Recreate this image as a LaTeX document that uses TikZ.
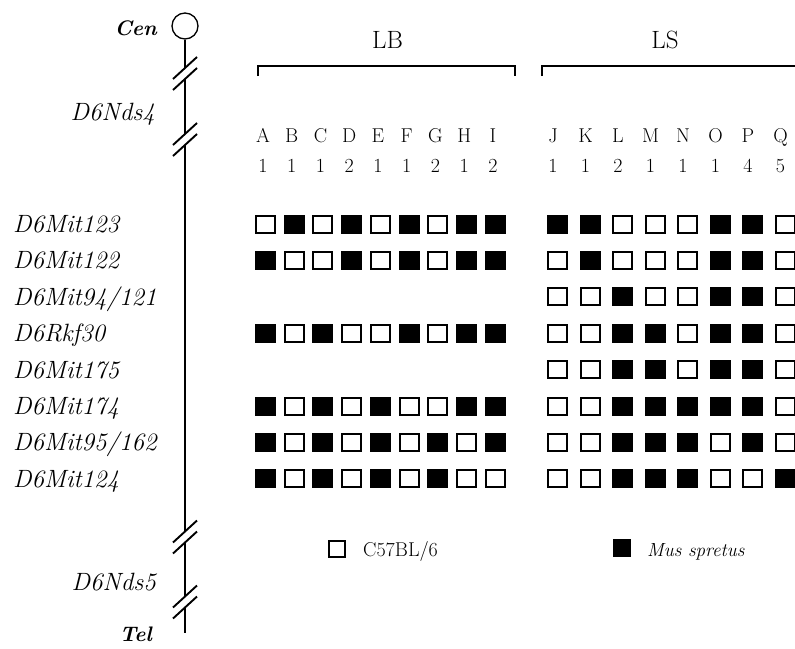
\documentclass[tikz,border=0pt]{standalone}
\tikzset{
  mapline/.style={line width=1.3pt},
  cutmark/.style={line width=1.9pt},
  bracket/.style={line width=2pt},
  gbox/.style={rectangle, draw=black, line width=2pt, minimum width=19pt,
    minimum height=17pt, inner sep=0pt},
  gt0/.style={gbox, fill=white},
  gt1/.style={gbox, fill=black},
  keybox/.style={rectangle, draw=black, line width=2pt, minimum width=16pt,
    minimum height=16pt, inner sep=0pt},
  marker/.style={anchor=base west, inner sep=0pt,
    font=\fontsize{25}{30}\selectfont\itshape},
  locus/.style={anchor=base east, inner sep=0pt,
    font=\fontsize{25}{30}\selectfont\itshape},
  endlabel/.style={anchor=base east, inner sep=0pt,
    font=\fontsize{21}{25}\selectfont\bfseries\itshape},
  group/.style={anchor=base, inner sep=0pt, font=\fontsize{25}{30}\selectfont},
  head/.style={anchor=base, inner sep=0pt, font=\fontsize{20}{24}\selectfont},
  keytext/.style={anchor=base west, inner sep=0pt, font=\fontsize{20}{24}\selectfont},
}
\begin{document}
\begin{tikzpicture}[x=1pt,y=-1pt]
\useasboundingbox (0,0) rectangle (795,648);

% chromosome with centromere and breaks
\node[circle, draw, line width=1.3pt, minimum size=26pt, inner sep=0pt] (cen) at (185,26) {};
\node[endlabel] (cenlabel) at (157,35) {Cen};
\node[endlabel] (tellabel) at (152,641) {Tel};
\coordinate (telend) at (185,633);
\foreach \k/\yc in {1/73.5, 2/139.5, 3/537, 4/602} {
  \coordinate (cut\k-a) at (185,\yc-5.5);
  \coordinate (cut\k-b) at (185,\yc+5.5);
  \draw[cutmark] (173,\yc+5.5) -- (197,\yc-16.5);
  \draw[cutmark] (173,\yc+16.5) -- (197,\yc-5.5);
}
\draw[mapline] (cen) -- (cut1-a) (cut1-b) -- (cut2-a) (cut2-b) -- (cut3-a)
  (cut3-b) -- (cut4-a) (cut4-b) -- (telend);
\node[locus] (nds4) at (155,120) {D6Nds4};
\node[locus] (nds5) at (156,590) {D6Nds5};

% marker names
\foreach \r/\name in {1/{D6Mit123}, 2/{D6Mit122}, 3/{D6Mit94/121}, 4/{D6Rkf30},
    5/{D6Mit175}, 6/{D6Mit174}, 7/{D6Mit95/162}, 8/{D6Mit124}}
  \node[marker] (mk-\r) at (13,{232.5+36.4*(\r-1)}) {\name};

% group brackets
\node[group] (lb) at (387.5,48) {LB};
\node[group] (ls) at (665,48) {LS};
\coordinate (lb-l) at (258,76);
\coordinate (lb-r) at (515,76);
\coordinate (ls-l) at (542,76);
\coordinate (ls-r) at (795,66);
\draw[bracket] (lb-l) |- (lb-r |- 0,66) -- (lb-r);
\draw[bracket] (ls-l) |- (ls-r);

% column letters and counts
\foreach \l/\n [count=\c] in {A/1,B/1,C/1,D/2,E/1,F/1,G/2,H/1,I/2} {
  \node[head] (h-\l) at ({263+28.75*(\c-1)},142) {\l};
  \node[head] (n-\l) at ({263+28.75*(\c-1)},172) {\n};
}
\foreach \l/\n [count=\c] in {J/1,K/1,L/2,M/1,N/1,O/1,P/4,Q/5} {
  \node[head] (h-\l) at ({553+32.5*(\c-1)},142) {\l};
  \node[head] (n-\l) at ({553+32.5*(\c-1)},172) {\n};
}

% genotypes: 0 = C57BL/6, 1 = Mus spretus
\foreach \r/\pat in {1/{0,1,0,1,0,1,0,1,1}, 2/{1,0,0,1,0,1,0,1,1},
    4/{1,0,1,0,0,1,0,1,1}, 6/{1,0,1,0,1,0,0,1,1},
    7/{1,0,1,0,1,0,1,0,1}, 8/{1,0,1,0,1,0,1,0,0}}
  \foreach \v [count=\c] in \pat
    \node[gt\v] (lbg-\r-\c) at ({265.4+28.75*(\c-1)},{224+36.4*(\r-1)}) {};
\foreach \r/\pat in {1/{1,1,0,0,0,1,1,0}, 2/{0,1,0,0,0,1,1,0},
    3/{0,0,1,0,0,1,1,0}, 4/{0,0,1,1,0,1,1,0}, 5/{0,0,1,1,0,1,1,0},
    6/{0,0,1,1,1,1,1,0}, 7/{0,0,1,1,1,0,1,0}, 8/{0,0,1,1,1,0,0,1}}
  \foreach \v [count=\c] in \pat
    \node[gt\v] (lsg-\r-\c) at ({557.5+32.5*(\c-1)},{224+36.4*(\r-1)}) {};

% key
\node[keybox, fill=white] (key0) at (336.5,549) {};
\node[keytext] (key0text) at (363,556) {C57BL/6};
\node[keybox, fill=black] (key1) at (622,548) {};
\node[keytext, font=\fontsize{19}{23}\selectfont\itshape] (key1text) at (647,556) {Mus spretus};
\end{tikzpicture}
\end{document}
